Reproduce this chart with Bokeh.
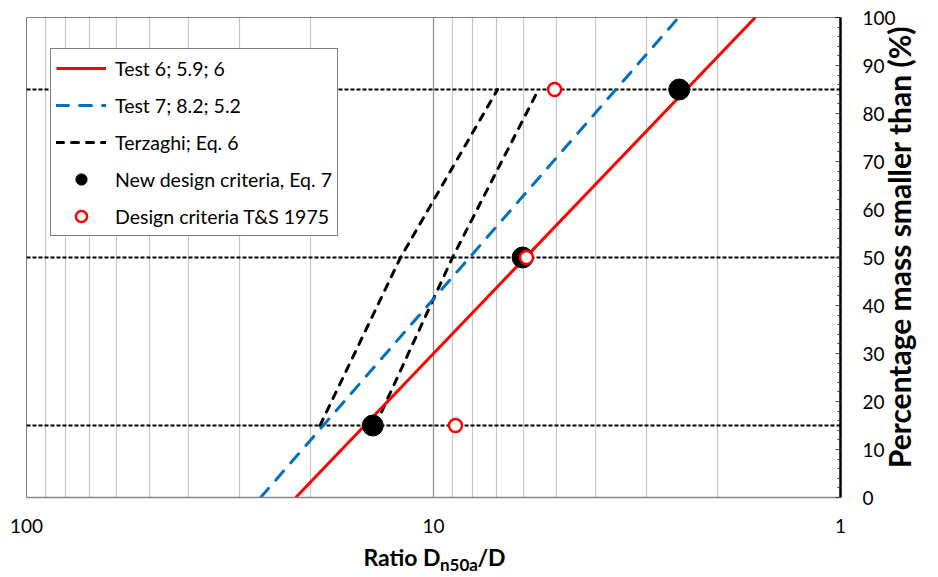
import math
from bokeh.plotting import figure
from bokeh.models import (Range1d, FixedTicker, SingleIntervalTicker, NumeralTickFormatter,
                          Span, Legend, LegendItem, LogAxis, LinearAxis)
from bokeh.embed import file_html
from bokeh.resources import INLINE

# ---------------- data ----------------
test6_ratio = [21.8, 1.62]          # Test 6; 5.9; 6  (red solid)
test6_pct = [0, 100]
test7_ratio = [26.6, 2.50]          # Test 7; 8.2; 5.2 (blue dashed)
test7_pct = [0, 100]
terz_pct = [15, 50, 85]             # Terzaghi; Eq. 6 (two black dashed bounds)
terz_a_ratio = [19.0, 12.05, 6.96]
terz_b_ratio = [13.9, 8.98, 5.52]
new_pct = [15, 50, 85]              # New design criteria, Eq. 7
new_ratio = [14.1, 6.04, 2.49]
ts_pct = [15, 50, 85]               # Design criteria T&S 1975
ts_ratio = [8.83, 5.91, 5.04]
ref_levels = [15, 50, 85]           # dashed horizontal reference levels
x_ticks = [100, 10, 1]
x_grid_major = [10]
x_grid_minor = [90, 80, 70, 60, 50, 40, 30, 20, 9, 8, 7, 6, 5, 4, 3, 2]

FONT = "Lato"
W, H = 938, 577
B_LEFT, B_RIGHT, B_TOP, B_BOTTOM = 26, 98, 17, 80
PX_PER_DECADE = (W - B_LEFT - B_RIGHT) / 2.0
PX_PER_PCT = (H - B_TOP - B_BOTTOM) / 100.0


def px_to_ratio(px):
    """canvas x -> value on the reversed log axis (used only to place title text)"""
    return round(10 ** (2 - (px - B_LEFT) / PX_PER_DECADE), 4)


def px_to_pct(py):
    """canvas y -> value on the percentage axis (used only to place title text)"""
    return round((H - B_BOTTOM - py) / PX_PER_PCT, 3)


p = figure(width=W, height=H, x_axis_type="log",
           x_range=Range1d(100, 1), y_range=Range1d(0, 100),
           y_axis_location="right", output_backend="svg", toolbar_location=None,
           min_border_left=B_LEFT, min_border_right=B_RIGHT,
           min_border_top=B_TOP, min_border_bottom=B_BOTTOM)
p.outline_line_color = None
p.background_fill_color = "white"
p.border_fill_color = "white"


def bare(ax):
    ax.axis_line_color = None
    ax.major_tick_line_color = None
    ax.minor_tick_line_color = None
    ax.major_tick_out = 0
    ax.minor_tick_out = 0
    ax.major_tick_in = 0
    ax.minor_tick_in = 0
    return ax


def text_axis(cls, ticks, labels, size, standoff, orientation="horizontal"):
    ax = bare(cls(ticker=FixedTicker(ticks=ticks, minor_ticks=[]),
                  major_label_overrides=dict(zip(ticks, labels))))
    ax.major_label_standoff = standoff
    ax.major_label_orientation = orientation
    ax.major_label_text_font = FONT
    ax.major_label_text_font_style = "bold"
    ax.major_label_text_font_size = size
    ax.major_label_text_color = "black"
    return ax


# x axis (log, reversed)
xa = bare(p.xaxis[0])
xa.ticker = FixedTicker(ticks=x_ticks)
xa.formatter = NumeralTickFormatter(format="0")
xa.axis_line_color = "#868686"
xa.axis_line_width = 1.5
xa.major_label_standoff = 21
xa.major_label_text_font = FONT
xa.major_label_text_font_size = "19px"
xa.major_label_text_color = "black"

# x axis title "Ratio D_n50a/D": main row, then subscript row pulled back up
p.add_layout(text_axis(LogAxis, [px_to_ratio(401.5), px_to_ratio(491)], ["Ratio D", "/D"],
                       "23px", 7), "below")
p.add_layout(text_axis(LogAxis, [px_to_ratio(458.5)], ["n50a"], "17px", -20), "below")

g = p.xgrid[0]
g.ticker = FixedTicker(ticks=x_grid_major, minor_ticks=x_grid_minor)
g.grid_line_color = "#8c8c8c"
g.grid_line_width = 1.2
g.minor_grid_line_color = "#c6c6c6"
g.minor_grid_line_width = 1.2
p.ygrid.visible = False

# right y axis
ya = p.yaxis[0]
ya.ticker = SingleIntervalTicker(interval=10, num_minor_ticks=5)
ya.axis_line_color = "black"
ya.axis_line_width = 2.5
ya.major_tick_in = 5
ya.major_tick_out = 0
ya.minor_tick_in = 3
ya.minor_tick_out = 0
ya.major_tick_line_color = "#404040"
ya.minor_tick_line_color = "#404040"
ya.major_label_standoff = 22
ya.major_label_text_font = FONT
ya.major_label_text_font_size = "19px"
ya.major_label_text_color = "black"

# right axis title, reading bottom-to-top; the rotated label lands mirrored about
# its anchor, so the anchor is set so that the text is centred near y = 246 px
p.add_layout(text_axis(LinearAxis, [px_to_pct(417)], ["Percentage mass smaller than (%)"],
                       "30px", 1, orientation=math.pi / 2), "right")

# frame borders left / top
p.add_layout(Span(location=100, dimension="height", line_color="black", line_width=1))
p.add_layout(Span(location=100, dimension="width", line_color="black", line_width=1))

# reference levels
for lvl in ref_levels:
    p.add_layout(Span(location=lvl, dimension="width", line_color="black",
                      line_width=1.8, line_dash="4 2", level="underlay"))

# curves
r_ta = p.line(terz_a_ratio, terz_pct, line_color="black", line_width=3,
              line_dash="7 8", line_cap="round")
r_tb = p.line(terz_b_ratio, terz_pct, line_color="black", line_width=3,
              line_dash="7 8", line_cap="round")
r_t7 = p.line(test7_ratio, test7_pct, line_color="#0070C0", line_width=3,
              line_dash="12 11", line_cap="round")
r_t6 = p.line(test6_ratio, test6_pct, line_color="#FF0000", line_width=3)
r_new = p.scatter(new_ratio, new_pct, marker="circle", size=21,
                  fill_color="black", line_color="black")
r_ts = p.scatter(ts_ratio, ts_pct, marker="circle", size=13,
                 fill_color="white", line_color="#FF0000", line_width=2.5)

legend = Legend(items=[
    LegendItem(label="Test 6; 5.9; 6", renderers=[r_t6]),
    LegendItem(label="Test 7; 8.2; 5.2", renderers=[r_t7]),
    LegendItem(label="Terzaghi; Eq. 6", renderers=[r_ta]),
    LegendItem(label="New design criteria, Eq. 7", renderers=[r_new]),
    LegendItem(label="Design criteria T&S 1975", renderers=[r_ts]),
], location=(24, 261))
legend.margin = 0
legend.padding = 5
legend.glyph_width = 50
legend.glyph_height = 28
legend.label_height = 28
legend.spacing = 9
legend.label_standoff = 9
legend.label_text_font = FONT
legend.label_text_font_size = "19.5px"
legend.label_text_color = "black"
legend.border_line_color = "black"
legend.border_line_width = 1
legend.background_fill_color = "white"
legend.background_fill_alpha = 1
p.add_layout(legend)

open("out.html", "w").write(file_html(p, INLINE))
